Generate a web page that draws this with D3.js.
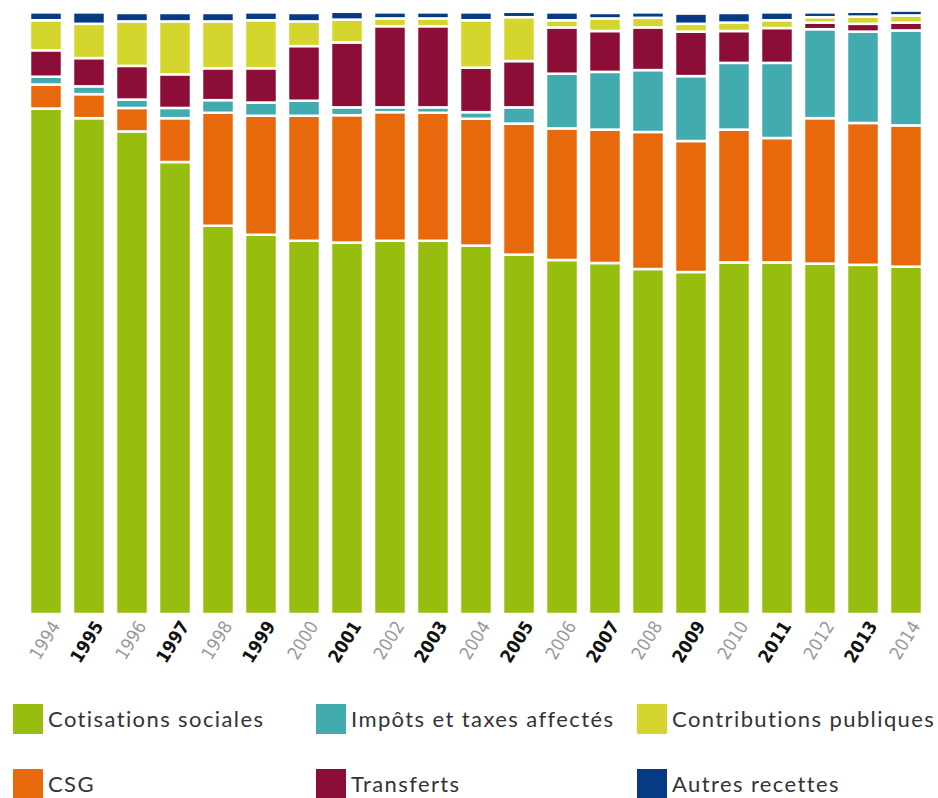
<!DOCTYPE html>
<html>
<head>
<meta charset="utf-8">
<script src="https://cdn.jsdelivr.net/npm/d3@7"></script>
<style>
  body { margin: 0; background: #fff; }
  svg { display: block; }
</style>
</head>
<body>
<div class="chart"></div>
<script>
// Data (share of receipts, %)
const years = ['1994','1995','1996','1997','1998','1999','2000','2001','2002','2003','2004',
  '2005','2006','2007','2008','2009','2010','2011','2012','2013','2014'];
const cotisations = [84.1,82.5,80.3,75.2,64.6,63.1,62.1,61.8,62.1,62.1,61.3,59.8,58.9,58.4,57.4,56.9,58.5,58.5,58.3,58.1,57.8];
const csg         = [4.0,4.0,3.9,7.3,18.8,19.8,20.8,21.2,21.4,21.3,21.1,21.8,21.9,22.2,22.8,21.8,22.1,20.7,24.2,23.6,23.5];
const impots      = [1.3,1.3,1.4,1.7,2.1,2.2,2.5,1.3,0.8,0.9,1.1,2.7,9.1,9.6,10.3,10.8,11.1,12.5,14.8,15.2,15.8];
const transferts  = [4.4,4.7,5.6,5.6,5.3,5.7,9.1,10.8,13.5,13.5,7.4,7.7,7.7,6.8,7.1,7.4,5.3,5.8,1.1,1.3,1.3];
const contribs    = [5.0,5.7,7.4,8.8,7.8,8.0,4.1,3.8,1.3,1.3,7.9,7.3,1.2,2.1,1.6,1.3,1.4,1.3,0.9,1.2,1.2];
const autres      = [1.3,1.9,1.4,1.4,1.4,1.3,1.4,1.3,1.0,1.0,1.3,0.9,1.3,0.9,0.9,1.7,1.6,1.3,0.8,0.8,0.8];

const seriesNames = ['Cotisations sociales','CSG','Impôts et taxes affectés','Transferts','Contributions publiques','Autres recettes'];
const seriesKeys = ['cotisations','csg','impots','transferts','contribs','autres'];
const seriesValues = [cotisations, csg, impots, transferts, contribs, autres];
const colors = ['#97bd0f','#e8690b','#42abb0','#8c0e36','#d4d62e','#063a84'];

const width = 938;
const height = 798;

// Build table for d3.stack
const table = years.map((y, i) => {
  const row = { year: y };
  seriesKeys.forEach((k, j) => { row[k] = seriesValues[j][i]; });
  return row;
});

const svg = d3.select('.chart')
  .append('svg')
  .attr('width', width)
  .attr('height', height);

const x = d3.scaleBand()
  .domain(years)
  .range([24.5, 927.5])
  .paddingInner(0.256)
  .paddingOuter(0.128);

const y = d3.scaleLinear()
  .domain([0, 100])
  .range([614, 13]);

const stacked = d3.stack().keys(seriesKeys)(table);

// Bars
svg.selectAll('.layer')
  .data(stacked)
  .enter()
  .append('g')
  .attr('class', 'layer')
  .attr('fill', (d, i) => colors[i])
  .selectAll('rect')
  .data(d => d)
  .enter()
  .append('rect')
  .attr('x', d => x(d.data.year))
  .attr('width', x.bandwidth())
  .attr('y', d => y(d[1]))
  .attr('height', d => Math.max(0, y(d[0]) - y(d[1])))
  .attr('stroke', '#fff')
  .attr('stroke-width', 2.5);

// Year labels
svg.selectAll('.year')
  .data(years)
  .enter()
  .append('text')
  .attr('class', 'year')
  .attr('transform', d => `translate(${x(d) + x.bandwidth() / 2 + 15}, 626) rotate(-58)`)
  .attr('text-anchor', 'end')
  .style('font-family', '"Liberation Sans Narrow", "DejaVu Sans Condensed", sans-serif')
  .style('font-size', '18px')
  .style('font-weight', (d, i) => i % 2 ? 'bold' : 'normal')
  .attr('fill', (d, i) => i % 2 ? '#111' : '#999')
  .text(d => d);

// Legend (3 columns, 2 rows)
const legendPos = [[13, 704], [13, 769], [316, 704], [316, 769], [637, 704], [637, 769]];
const legend = svg.selectAll('.legend')
  .data(seriesNames)
  .enter()
  .append('g')
  .attr('class', 'legend')
  .attr('transform', (d, i) => `translate(${legendPos[i][0]}, ${legendPos[i][1]})`);

legend.append('rect')
  .attr('width', 30)
  .attr('height', 30)
  .attr('fill', (d, i) => colors[i]);

legend.append('text')
  .attr('x', 35)
  .attr('y', 23)
  .style('font-family', 'Lato, sans-serif')
  .style('font-size', '22px')
  .style('letter-spacing', '1.4px')
  .attr('fill', '#333')
  .text(d => d);
</script>
</body>
</html>
